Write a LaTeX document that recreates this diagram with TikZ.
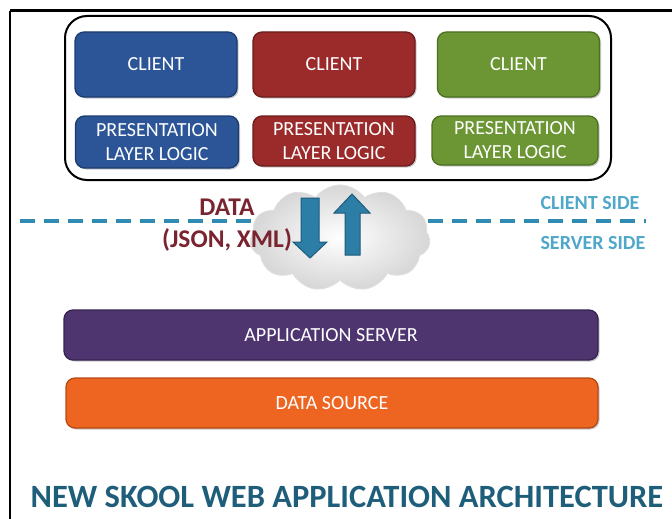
\documentclass[tikz,border=0pt]{standalone}
\usepackage{fontspec}
\setmainfont{Carlito}
\usetikzlibrary{shapes.symbols,shadows}

\definecolor{cblue}{HTML}{2B5597}
\definecolor{cblueD}{HTML}{1C3C70}
\definecolor{cred}{HTML}{9B2A2A}
\definecolor{credD}{HTML}{6C1B1B}
\definecolor{cgreen}{HTML}{6B9633}
\definecolor{cgreenD}{HTML}{4C6F22}
\definecolor{cpurple}{HTML}{4F3570}
\definecolor{cpurpleD}{HTML}{362350}
\definecolor{corange}{HTML}{EE6522}
\definecolor{corangeD}{HTML}{B44A14}
\definecolor{divider}{HTML}{2F8BB0}
\definecolor{sidetext}{HTML}{4FA7C9}
\definecolor{datatext}{HTML}{7A2430}
\definecolor{arrowfill}{HTML}{2D7EA6}
\definecolor{arrowline}{HTML}{1C5B7A}
\definecolor{titletext}{HTML}{1F5E7A}

\tikzset{
  tile/.style={rectangle, rounded corners=9pt, line width=1.3pt, align=center,
    text=white, font=\fontsize{20}{24}\selectfont, inner sep=0pt,
    drop shadow={shadow xshift=1.5pt, shadow yshift=-1.5pt, opacity=0.35, fill=black!60}},
  bluetile/.style={tile, fill=cblue, draw=cblueD},
  redtile/.style={tile, fill=cred, draw=credD},
  greentile/.style={tile, fill=cgreen, draw=cgreenD},
  sidelabel/.style={text=sidetext, font=\bfseries\fontsize{20}{23}\selectfont, anchor=west},
  flowarrow/.style={fill=arrowfill, draw=arrowline, line width=1pt, line join=miter},
}

\begin{document}
\begin{tikzpicture}[x=1pt, y=-1pt]
\useasboundingbox (0,0) rectangle (672,519);

% page frame
\draw[line width=3pt] (10,11) -- (672,11);
\draw[line width=1.5pt] (10,11) -- (10,519);

% client side container
\draw[line width=2pt, rounded corners=22pt] (65,16) rectangle (611,180);

% client tiles
\node[bluetile,  minimum width=162pt, minimum height=65pt] (c1) at (156,64.5) {CLIENT};
\node[redtile,   minimum width=162pt, minimum height=65pt] (c2) at (334,64.5) {CLIENT};
\node[greentile, minimum width=162pt, minimum height=65pt] (c3) at (518.5,64.5) {CLIENT};

% presentation tiles
\node[bluetile,  minimum width=163pt, minimum height=52pt] (p1) at (157,142) {PRESENTATION\\LAYER LOGIC};
\node[redtile,   minimum width=162pt, minimum height=50pt] (p2) at (334,141) {PRESENTATION\\LAYER LOGIC};
\node[greentile, minimum width=166pt, minimum height=49pt] (p3) at (515,140.5) {PRESENTATION\\LAYER LOGIC};

% client / server divider
\draw[divider, line width=4pt, dash pattern=on 15pt off 9pt] (20,221) -- (646,221);
\node[sidelabel] (cs) at (537,203) {CLIENT SIDE};
\node[sidelabel] (ss) at (537,243) {SERVER SIDE};

% transport cloud
\node[cloud, cloud puffs=11, cloud puff arc=110, aspect=1.8,
      minimum width=180pt, minimum height=106pt, inner sep=0pt,
      draw=gray!25, line width=1pt,
      inner color=white, outer color=gray!32] (cloud) at (340,238) {};

% payload label
\node[text=datatext, font=\bfseries\fontsize{25.5}{30}\selectfont, align=center,
      inner sep=0pt] (data) at (227,225) {DATA\\[2pt](JSON, XML)};

% request / response arrows
\draw[flowarrow] (301,198) -- (319,198) -- (319,242) -- (327,242) -- (310,258)
   -- (293,242) -- (301,242) -- cycle;
\draw[flowarrow] (345,255) -- (360,255) -- (360,213) -- (370,213) -- (352,194)
   -- (334,213) -- (345,213) -- cycle;

% server tiers
\node[tile, fill=cpurple, draw=cpurpleD, minimum width=534pt, minimum height=50pt]
  (app) at (331,335) {APPLICATION SERVER};
\node[tile, fill=corange, draw=corangeD, minimum width=532pt, minimum height=50pt]
  (src) at (332,403) {DATA SOURCE};

% caption
\node[text=titletext, font=\bfseries\fontsize{32.5}{36}\selectfont, inner sep=0pt]
  (title) at (347,497) {NEW SKOOL WEB APPLICATION ARCHITECTURE};
\end{tikzpicture}
\end{document}
